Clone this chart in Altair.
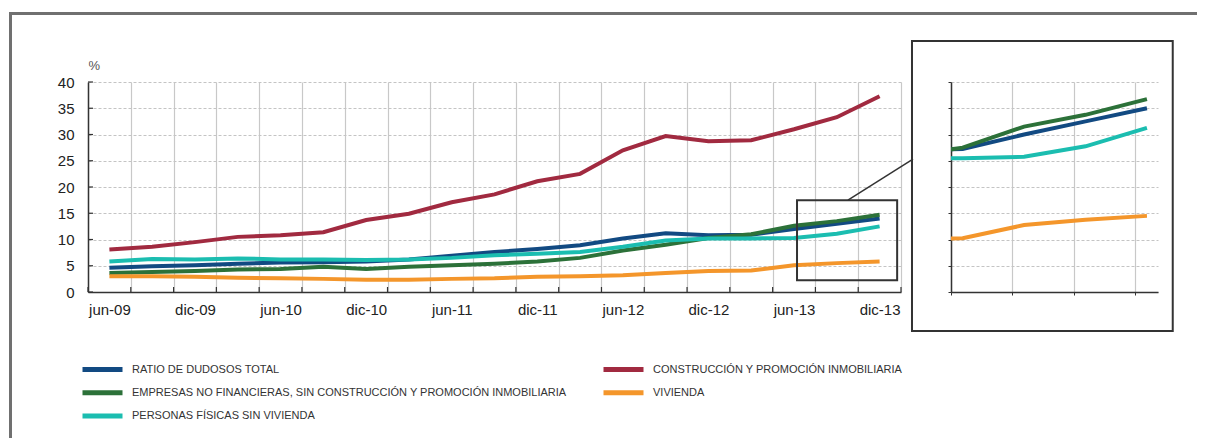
import altair as alt
import pandas as pd

quarters = ["jun-09", "sep-09", "dic-09", "mar-10", "jun-10", "sep-10", "dic-10", "mar-11",
            "jun-11", "sep-11", "dic-11", "mar-12", "jun-12", "sep-12", "dic-12", "mar-13",
            "jun-13", "sep-13", "dic-13"]

# legend order (column-major, 3 rows x 2 columns)
series_names = [
    "RATIO DE DUDOSOS TOTAL",
    "EMPRESAS NO FINANCIERAS, SIN CONSTRUCCIÓN Y PROMOCIÓN INMOBILIARIA",
    "PERSONAS FÍSICAS SIN VIVIENDA",
    "CONSTRUCCIÓN Y PROMOCIÓN INMOBILIARIA",
    "VIVIENDA",
]
series_colors = ["#124a82", "#2c7139", "#1bbdb0", "#a12a40", "#f4962b"]

total = [4.6, 4.9, 5.1, 5.4, 5.6, 5.65, 5.8, 6.2, 6.9, 7.6, 8.2, 8.9, 10.2, 11.2, 10.8, 10.9, 12.0, 13.0, 14.0]
empresas = [3.6, 3.8, 4.0, 4.3, 4.4, 4.8, 4.4, 4.8, 5.1, 5.4, 5.8, 6.5, 7.9, 9.0, 10.3, 11.0, 12.6, 13.5, 14.7]
personas = [5.8, 6.3, 6.2, 6.4, 6.2, 6.2, 6.1, 6.2, 6.5, 7.0, 7.3, 7.6, 8.6, 9.8, 10.2, 10.2, 10.3, 11.1, 12.5]
construccion = [8.1, 8.6, 9.5, 10.5, 10.8, 11.4, 13.7, 14.9, 17.1, 18.6, 21.1, 22.5, 27.0, 29.7, 28.7, 28.9, 31.0, 33.3, 37.3]
vivienda = [3.0, 3.0, 2.9, 2.7, 2.6, 2.5, 2.35, 2.35, 2.5, 2.6, 2.9, 3.0, 3.2, 3.6, 4.0, 4.1, 5.1, 5.5, 5.8]

y_ticks_main = [0, 5, 10, 15, 20, 25, 30, 35, 40]
y_ticks_inset = [0, 2, 4, 6, 8, 10, 12, 14, 16]

rows = []
for name, vals in zip(series_names, [total, empresas, personas, construccion, vivienda]):
    for i, (q, v) in enumerate(zip(quarters, vals)):
        rows.append({"serie": name, "q": q, "idx": i, "valor": v})
df = pd.DataFrame(rows)

n = len(quarters)
x_bounds = [i - 0.5 for i in range(n + 1)]

# decoration geometry (in data units of each panel)
zoom_box = pd.DataFrame([{"x": 16.07, "x2": 18.41, "y": 2.25, "y2": 17.5}])
connector = pd.DataFrame([{"x": 17.26, "x2": 18.78, "y": 17.5, "y2": 25.3}])
inset_box = pd.DataFrame([{"x": 14.175, "x2": 18.42, "y": -2.97, "y2": 19.12}])
xtick_df = pd.DataFrame({"x": x_bounds})
ytick_df = pd.DataFrame({"y": y_ticks_main})

FONT = "Liberation Sans"

xs_main = alt.Scale(domain=[-0.5, n - 0.5], nice=False, zero=False)
ys_main = alt.Scale(domain=[0, 40], nice=False)

label_arr = "[" + ",".join("'%s'" % (q if i % 2 == 0 else "") for i, q in enumerate(quarters)) + ",'']"

ax_x = alt.Axis(values=x_bounds, labelExpr=label_arr + "[round(datum.value + 0.5)]",
                labelOffset=21.4, ticks=False, labelPadding=10, labelFontSize=15, labelFont=FONT,
                labelColor="#222", grid=True, gridColor="#c8c8c8", gridWidth=1.2, title=None,
                domainColor="#333", domainWidth=1.5, labelFlush=False, labelOverlap=False)
ax_y = alt.Axis(values=y_ticks_main, title="%", titleAngle=0, titleAlign="left", titleX=0, titleY=-10,
                titleBaseline="bottom", titleFont=FONT, titleFontSize=13, titleFontWeight="normal",
                titleColor="#555", ticks=False, labelPadding=14, labelFontSize=15, labelFont=FONT,
                labelColor="#222", grid=True, gridColor="#c4c4c4", gridDash=[3, 2], gridWidth=1,
                domainColor="#333", domainWidth=1.5, labelOverlap=False)

legend = alt.Legend(
    title=None, orient="none", legendX=-8, legendY=279.5, columns=2,
    symbolType="stroke", symbolSize=1600, symbolStrokeWidth=5,
    labelFont=FONT, labelFontSize=11, labelColor="#333",
    labelOffset=7, clipHeight=16, rowPadding=7.3, columnPadding=34,
    padding=0, labelLimit=700,
)
color = alt.Color("serie:N", scale=alt.Scale(domain=series_names, range=series_colors), legend=legend)

lines = alt.Chart(df).mark_line(strokeWidth=4).encode(
    x=alt.X("idx:Q", scale=xs_main, axis=ax_x),
    y=alt.Y("valor:Q", scale=ys_main, axis=ax_y),
    color=color,
    detail="serie:N",
    order="idx:Q",
)

xticks = alt.Chart(xtick_df).mark_rule(stroke="#333", strokeWidth=1.2).encode(
    x=alt.X("x:Q", scale=xs_main, axis=ax_x), y=alt.value(205), y2=alt.value(210))
yticks = alt.Chart(ytick_df).mark_rule(stroke="#333", strokeWidth=1.2).encode(
    y=alt.Y("y:Q", scale=ys_main, axis=ax_y), x=alt.value(0), x2=alt.value(5))

box = alt.Chart(zoom_box).mark_rect(fill=None, stroke="#333", strokeWidth=2).encode(
    x=alt.X("x:Q", scale=xs_main, axis=ax_x), x2="x2:Q",
    y=alt.Y("y:Q", scale=ys_main, axis=ax_y), y2="y2:Q")
conn = alt.Chart(connector).mark_rule(stroke="#333", strokeWidth=1.5).encode(
    x=alt.X("x:Q", scale=xs_main, axis=ax_x), x2="x2:Q",
    y=alt.Y("y:Q", scale=ys_main, axis=ax_y), y2="y2:Q")

frame_top = alt.Chart(zoom_box).mark_rule(stroke="#707070", strokeWidth=3).encode(
    x=alt.value(-79), x2=alt.value(1109), y=alt.value(-68.5))
frame_left = alt.Chart(zoom_box).mark_rule(stroke="#707070", strokeWidth=3).encode(
    x=alt.value(-77.5), y=alt.value(-70), y2=alt.value(356))

main = alt.layer(lines, xticks, yticks, box, conn, frame_top, frame_left).properties(width=813, height=210)

# inset
xs_in = alt.Scale(domain=[14.81, 18.18], nice=False, zero=False)
ys_in = alt.Scale(domain=[0, 16], nice=False)
df_in = df[df["serie"] != "CONSTRUCCIÓN Y PROMOCIÓN INMOBILIARIA"]

ax_xi = alt.Axis(values=[14.81, 15.81, 16.81, 17.81], labels=False, ticks=True, tickSize=3, title=None,
                 tickColor="#333", grid=True, gridColor="#c8c8c8", gridWidth=1.2,
                 domainColor="#333", domainWidth=1.5)
ax_yi = alt.Axis(values=y_ticks_inset, labels=False, ticks=True, tickSize=3, tickColor="#333", title=None,
                 grid=True, gridColor="#c4c4c4", gridDash=[3, 2], gridWidth=1,
                 domainColor="#333", domainWidth=1.5)

lines_in = alt.Chart(df_in).mark_line(strokeWidth=4, clip=True).encode(
    x=alt.X("idx:Q", scale=xs_in, axis=ax_xi),
    y=alt.Y("valor:Q", scale=ys_in, axis=ax_yi),
    color=color,
    detail="serie:N",
    order="idx:Q",
)
box_in = alt.Chart(inset_box).mark_rect(fill=None, stroke="#333", strokeWidth=2).encode(
    x=alt.X("x:Q", scale=xs_in, axis=ax_xi), x2="x2:Q",
    y=alt.Y("y:Q", scale=ys_in, axis=ax_yi), y2="y2:Q")

inset = alt.layer(lines_in, box_in).properties(width=207, height=210)

chart = alt.hconcat(main, inset, spacing=50).properties(
    bounds="flush",
    autosize=alt.AutoSizeParams(type="none"),
    padding={"left": 80, "top": 74, "right": 1117, "bottom": 363},
).configure_view(stroke=None)

chart.save("out.html", embed_options={"renderer": "svg", "actions": False})
